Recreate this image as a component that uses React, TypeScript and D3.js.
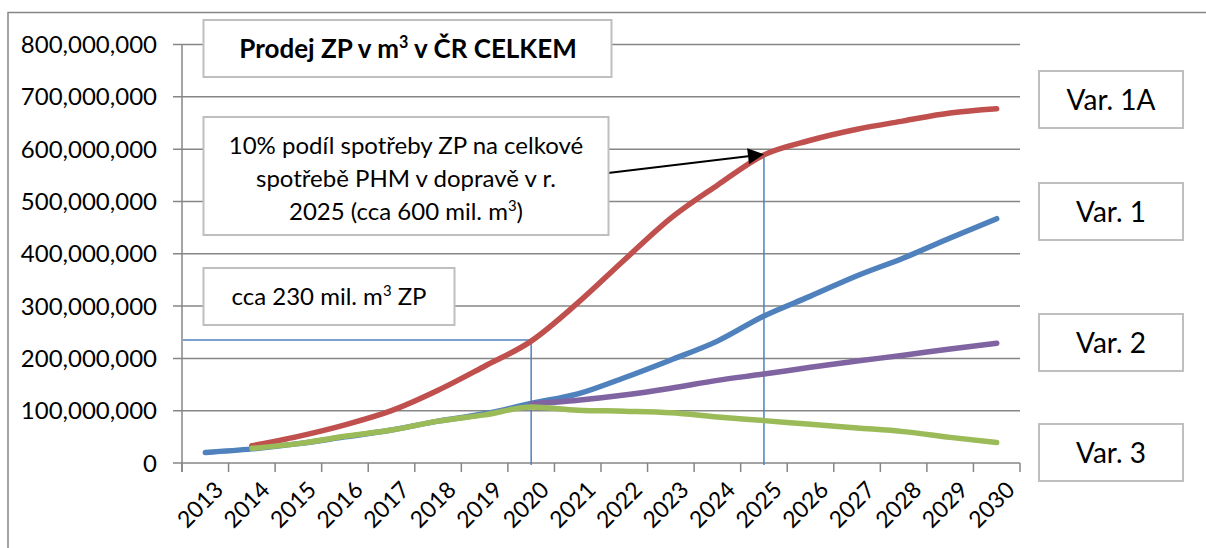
import React from "react";
import * as d3 from "d3";

const years = ["2013","2014","2015","2016","2017","2018","2019","2020","2021","2022","2023","2024","2025","2026","2027","2028","2029","2030"];
// values in millions of m3
const var1A = [null, 33, 51, 73, 100, 139, 185, 233, 306, 388, 468, 531, 589, 617, 638, 654, 669, 677];
const var1 = [20, 27, 37, 50, 63, 80, 94, 114, 132, 163, 197, 233, 281, 319, 358, 392, 430, 467];
const var2 = [null, null, null, null, null, null, null, 113, 120, 130, 143, 158, 170, 183, 195, 206, 218, 229];
const var3 = [null, 28, 37, 51, 63, 80, 92, 107, 101, 99, 96, 88, 81, 74, 67, 60, 49, 39];
const yTicks = [0, 100, 200, 300, 400, 500, 600, 700, 800];
const seriesNames = ["Var. 1A", "Var. 1", "Var. 2", "Var. 3"];
const refLevel = 235; // cca 230 mil.
const refYear = "2020";
const targetLevel = 590; // cca 600 mil.
const targetYear = "2025";

const colors = { "Var. 1A": "#C0504D", "Var. 1": "#4F81BD", "Var. 2": "#8064A2", "Var. 3": "#9BBB59" };
const FONT = "Lato, 'Open Sans', sans-serif";

// text with superscript "3": before + sup + after
const SupText = ({ before, sup, after, size }: { before: string; sup: string; after: string; size: number }) => (
  <>
    <tspan>{before}</tspan>
    <tspan dy={-size * 0.38} fontSize={size * 0.62}>{sup}</tspan>
    <tspan dy={size * 0.38}>{after}</tspan>
  </>
);

export default function App() {
  const W = 1206, H = 548;
  const left = 182, right = 1020, top = 44.5, bottom = 463;
  const x = d3.scaleBand().domain(years).range([left, right]).padding(0);
  const y = d3.scaleLinear().domain([0, 800]).range([bottom, top]);
  const cx = (yr: string) => (x(yr) as number) + x.bandwidth() / 2;

  const line = d3.line<number | null>()
    .defined((d) => d != null)
    .x((_, i) => cx(years[i]))
    .y((d) => y(d as number))
    .curve(d3.curveMonotoneX);

  const series = [
    { name: "Var. 1A", values: var1A },
    { name: "Var. 1", values: var1 },
    { name: "Var. 2", values: var2 },
    { name: "Var. 3", values: var3 },
  ];

  const fmt = d3.format(",");
  const grid = "#868686";
  const boxStroke = "#BFBFBF";
  const boundaries = d3.range(years.length + 1).map((i) => left + i * x.bandwidth());

  const legendBoxes = [
    { name: seriesNames[0], y0: 71 },
    { name: seriesNames[1], y0: 183 },
    { name: seriesNames[2], y0: 314 },
    { name: seriesNames[3], y0: 424 },
  ];

  const refX = cx(refYear);
  const tgtX = cx(targetYear);
  const tgtY = y(targetLevel);
  const arrowStart = [608, 173];
  const ang = Math.atan2(tgtY - arrowStart[1], tgtX - arrowStart[0]);
  const ah = 16, aw = 8;
  const bx = tgtX - ah * Math.cos(ang), by = tgtY - ah * Math.sin(ang);
  const arrowHead = [
    [tgtX, tgtY],
    [bx + aw * Math.sin(ang), by - aw * Math.cos(ang)],
    [bx - aw * Math.sin(ang), by + aw * Math.cos(ang)],
  ];

  return (
    <svg width={W} height={H} style={{ position: "absolute", left: 0, top: 0, background: "#fff" }} fontFamily={FONT}>
      <rect x={0} y={0} width={W} height={H} fill="#fff" />
      <rect x={8} y={12.5} width={1210} height={560} fill="none" stroke={grid} strokeWidth={1.5} />
      {/* gridlines */}
      {yTicks.map((t) => (
        <line key={t} x1={173} x2={right} y1={y(t)} y2={y(t)} stroke={grid} strokeWidth={1.5} />
      ))}
      {/* y axis */}
      <line x1={left} x2={left} y1={top} y2={472} stroke={grid} strokeWidth={1.5} />
      {boundaries.map((b, i) => (
        <line key={i} x1={b} x2={b} y1={bottom} y2={472} stroke={grid} strokeWidth={1.5} />
      ))}
      {/* y labels */}
      {yTicks.map((t) => (
        <text key={t} x={157} y={y(t)} dy="0.36em" textAnchor="end" fontSize={24} fill="#000">
          {fmt(t * 1000000)}
        </text>
      ))}
      {/* x labels */}
      {years.map((yr) => (
        <text key={yr} transform={`translate(${cx(yr) + 8},${480}) rotate(-45)`} textAnchor="end" fontSize={23} dy="0.7em" fill="#000">
          {yr}
        </text>
      ))}
      {/* reference lines */}
      <line x1={183} x2={refX} y1={y(refLevel)} y2={y(refLevel)} stroke="#4F81BD" strokeWidth={1.5} />
      <line x1={refX} x2={refX} y1={y(refLevel)} y2={465} stroke="#4F81BD" strokeWidth={1.5} />
      <line x1={tgtX} x2={tgtX} y1={tgtY} y2={465} stroke="#4F81BD" strokeWidth={1.5} />
      {/* series */}
      {series.map((s) => (
        <path key={s.name} d={line(s.values) || ""} fill="none" stroke={colors[s.name as keyof typeof colors]} strokeWidth={5.5} strokeLinecap="round" strokeLinejoin="round" />
      ))}
      {/* arrow */}
      <line x1={arrowStart[0]} y1={arrowStart[1]} x2={bx} y2={by} stroke="#000" strokeWidth={2} />
      <polygon points={arrowHead.map((p) => p.join(",")).join(" ")} fill="#000" />
      {/* title box */}
      <rect x={203.5} y={20} width={408} height={57} fill="#fff" stroke={boxStroke} strokeWidth={2} />
      <text x={408} y={58} textAnchor="middle" fontSize={26} fontWeight="bold" fill="#000">
        <SupText before="Prodej ZP v m" sup="3" after=" v ČR CELKEM" size={26} />
      </text>
      {/* annotation box */}
      <rect x={203.5} y={117} width={405} height={118} fill="#fff" stroke={boxStroke} strokeWidth={2} />
      <text textAnchor="middle" fontSize={24} fill="#000">
        <tspan x={406} y={154}>10% podíl spotřeby ZP na celkové</tspan>
        <tspan x={406} y={187}>spotřebě PHM v dopravě v r.</tspan>
      </text>
      <text x={406} y={220} textAnchor="middle" fontSize={24} fill="#000">
        <SupText before="2025 (cca 600 mil. m" sup="3" after=")" size={24} />
      </text>
      {/* cca box */}
      <rect x={203.5} y={268} width={251} height={57} fill="#fff" stroke={boxStroke} strokeWidth={2} />
      <text x={329} y={305} textAnchor="middle" fontSize={24} fill="#000">
        <SupText before="cca 230 mil. m" sup="3" after=" ZP" size={24} />
      </text>
      {/* legend boxes */}
      {legendBoxes.map((b) => (
        <g key={b.name}>
          <rect x={1039} y={b.y0} width={144} height={57} fill="#fff" stroke={boxStroke} strokeWidth={2} />
          <text x={1111} y={b.y0 + 29} dy="0.36em" textAnchor="middle" fontSize={28} fill="#000">
            {b.name}
          </text>
        </g>
      ))}
    </svg>
  );
}
